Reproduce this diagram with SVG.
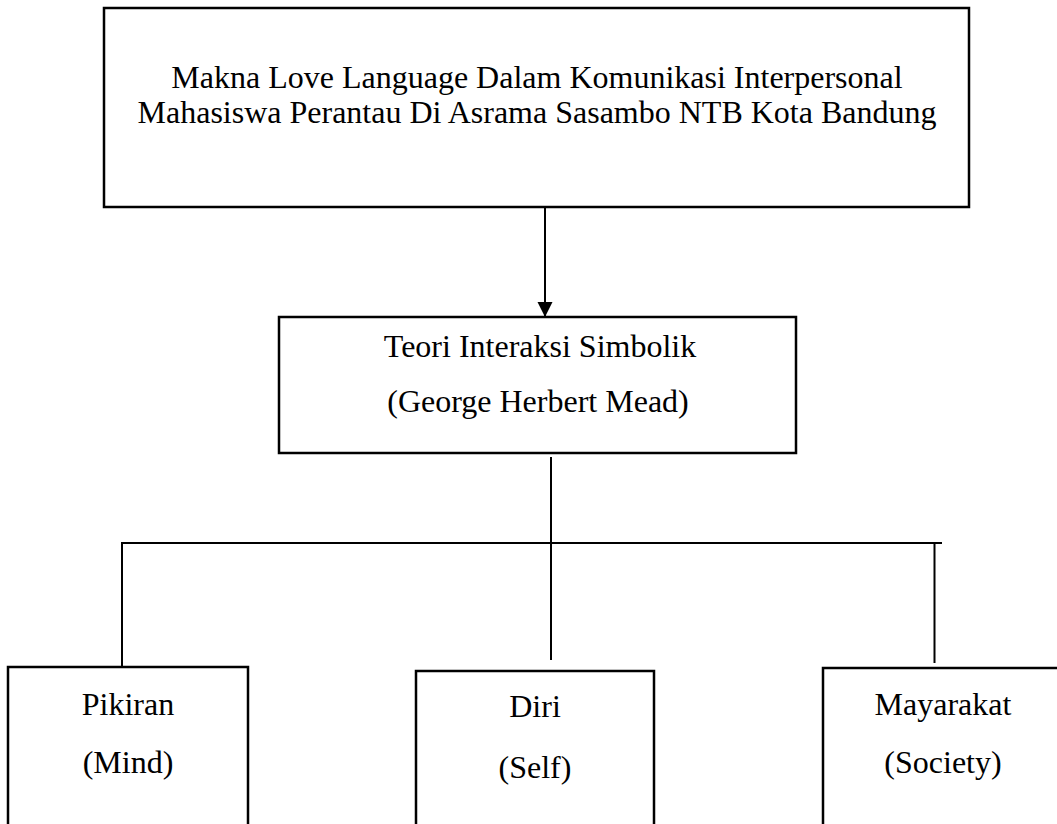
<svg xmlns="http://www.w3.org/2000/svg" width="1057" height="824" viewBox="0 0 1057 824">
<style>
.box{fill:#fff;stroke:#000;stroke-width:2.5}
.t{font-family:"Liberation Serif","Times New Roman",serif;font-size:32px;fill:#000;text-anchor:middle}
.c{stroke:#000;stroke-width:2;fill:none}
</style>
<defs>
<marker id="ah" markerWidth="16" markerHeight="16" refX="15" refY="7.5" orient="auto" markerUnits="userSpaceOnUse">
<path d="M0,0 L15,7.5 L0,15 Z" fill="#000"/>
</marker>
</defs>
<rect width="1057" height="824" fill="#fff"/>
<g id="connectors">
<line class="c" x1="545" y1="207" x2="545" y2="317" stroke-width="1.4" marker-end="url(#ah)"/>
<line class="c" x1="551" y1="457" x2="551" y2="543"/>
<line class="c" x1="121" y1="543" x2="942" y2="543" stroke-width="2.5"/>
<line class="c" x1="122" y1="543" x2="122" y2="667"/>
<line class="c" x1="551" y1="543" x2="551" y2="660"/>
<line class="c" x1="934.5" y1="543" x2="934.5" y2="663"/>
</g>
<g id="node-main">
<rect class="box" x="104" y="8" width="865" height="199"/>
<text class="t" x="537" y="88">Makna Love Language Dalam Komunikasi Interpersonal</text>
<text class="t" x="537" y="123">Mahasiswa Perantau Di Asrama Sasambo NTB Kota Bandung</text>
</g>
<g id="node-teori">
<rect class="box" x="279" y="317" width="517" height="136"/>
<text class="t" x="540" y="357">Teori Interaksi Simbolik</text>
<text class="t" x="538" y="412">(George Herbert Mead)</text>
</g>
<g id="node-pikiran">
<rect class="box" x="8" y="667" width="240" height="170"/>
<text class="t" x="128" y="715">Pikiran</text>
<text class="t" x="128" y="773">(Mind)</text>
</g>
<g id="node-diri">
<rect class="box" x="416" y="671" width="238" height="170"/>
<text class="t" x="535" y="717">Diri</text>
<text class="t" x="535" y="778">(Self)</text>
</g>
<g id="node-masyarakat">
<rect class="box" x="823" y="668" width="250" height="170"/>
<text class="t" x="943" y="715">Mayarakat</text>
<text class="t" x="943" y="773">(Society)</text>
</g>
</svg>
